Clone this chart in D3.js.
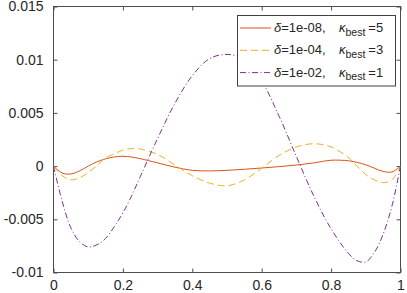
<!DOCTYPE html>
<html>
<head>
<meta charset="utf-8">
<script src="https://cdn.jsdelivr.net/npm/d3@7"></script>
<style>
  body { margin: 0; background: #fff; }
  svg { display: block; font-family: 'Liberation Sans', Arial, Helvetica, sans-serif; }
</style>
</head>
<body>
<div id="chart"></div>
<script>
// sample positions along x (shared by all three curves)
const xs = [0, 0.025, 0.05, 0.075, 0.1, 0.125, 0.15, 0.175, 0.2, 0.225, 0.25, 0.3, 0.35, 0.4, 0.45,
  0.5, 0.55, 0.6, 0.65, 0.7, 0.75, 0.8, 0.85, 0.875, 0.9, 0.925, 0.95, 0.975, 1];

// delta = 1e-08, kappa_best = 5
const seriesDelta8 = [0, -0.00065, -0.00074, -0.00045, 0.0, 0.0004, 0.00068, 0.00086, 0.00092, 0.00085, 0.0007,
  0.0003, -0.0001, -0.0004, -0.00045, -0.0004, -0.0003, -0.00018, -0.00005, 0.0001, 0.0003, 0.00055, 0.0005,
  0.00035, 0.00012, -0.0002, -0.0005, -0.00055, 0];

// delta = 1e-04, kappa_best = 3
const seriesDelta4 = [0, -0.0009, -0.00128, -0.0011, -0.0006, 0.00004, 0.00077, 0.00115, 0.0015, 0.00165, 0.0016,
  0.0011, 0.0001, -0.0009, -0.0016, -0.00185, -0.0013, -0.0002, 0.001, 0.0018, 0.0021, 0.0018, 0.0008,
  0.0, -0.0008, -0.0013, -0.00155, -0.0013, 0];

// delta = 1e-02, kappa_best = 1
const seriesDelta2 = [0, -0.0033, -0.0058, -0.0071, -0.0076, -0.0074, -0.0068, -0.0057, -0.0044, -0.0028, -0.001,
  0.0026, 0.0059, 0.0085, 0.0101, 0.0105, 0.01, 0.008, 0.0047, 0.0009, -0.0028, -0.0059, -0.0082,
  -0.0089, -0.009, -0.0081, -0.0064, -0.0038, 0];

const xTicks = [0, 0.2, 0.4, 0.6, 0.8, 1];
const xTickLabels = ['0', '0.2', '0.4', '0.6', '0.8', '1'];
const yTicks = [-0.01, -0.005, 0, 0.005, 0.01, 0.015];
const yTickLabels = ['-0.01', '-0.005', '0', '0.005', '0.01', '0.015'];

const legendDeltas = ['1e-08', '1e-04', '1e-02'];
const legendKappas = ['5', '3', '1'];

const width = 407;
const height = 293;
const plot = { left: 53.5, right: 400.5, top: 6.5, bottom: 272.5 };

const svg = d3.select('#chart')
  .append('svg')
  .attr('width', width)
  .attr('height', height);

const x = d3.scaleLinear()
  .domain([0, 1])
  .range([plot.left, plot.right]);

const y = d3.scaleLinear()
  .domain([-0.01, 0.015])
  .range([plot.bottom, plot.top]);

const axisColor = '#4d4d4d';
const textColor = '#262626';

function styleAxis(g) {
  g.select('.domain').remove();
  g.selectAll('.tick line').attr('stroke', axisColor);
  g.selectAll('.tick text')
    .attr('fill', textColor)
    .style('font-size', '14px');
}

// ticks point inwards on all four sides
svg.append('g')
  .attr('transform', `translate(0,${plot.bottom})`)
  .call(d3.axisBottom(x).tickValues(xTicks).tickSize(-4).tickPadding(8)
    .tickFormat((d, i) => xTickLabels[i]))
  .call(styleAxis)
  .call(g => g.selectAll('.tick text').attr('dy', '0.68em'));

svg.append('g')
  .attr('transform', `translate(0,${plot.top})`)
  .call(d3.axisTop(x).tickValues(xTicks).tickSize(-4).tickFormat(''))
  .call(styleAxis);

svg.append('g')
  .attr('transform', `translate(${plot.left},0)`)
  .call(d3.axisLeft(y).tickValues(yTicks).tickSize(-4).tickPadding(10)
    .tickFormat((d, i) => yTickLabels[i]))
  .call(styleAxis);

svg.append('g')
  .attr('transform', `translate(${plot.right},0)`)
  .call(d3.axisRight(y).tickValues(yTicks).tickSize(-4).tickFormat(''))
  .call(styleAxis);

// frame
svg.append('rect')
  .attr('x', plot.left)
  .attr('y', plot.top)
  .attr('width', plot.right - plot.left)
  .attr('height', plot.bottom - plot.top)
  .attr('fill', 'none')
  .attr('stroke', axisColor)
  .attr('stroke-width', 1);

const series = [
  { values: seriesDelta8, color: '#D95319', dash: null },
  { values: seriesDelta4, color: '#EDB120', dash: '7,4' },
  { values: seriesDelta2, color: '#7E2F8E', dash: '6,2.5,1,2.5' }
];

const line = d3.line()
  .x(d => x(d[0]))
  .y(d => y(d[1]))
  .curve(d3.curveCatmullRom.alpha(0.5));

svg.selectAll('path.curve')
  .data(series)
  .join('path')
  .attr('class', 'curve')
  .attr('d', s => line(xs.map((v, i) => [v, s.values[i]])))
  .attr('fill', 'none')
  .attr('stroke', s => s.color)
  .attr('stroke-width', 1)
  .attr('stroke-dasharray', s => s.dash);

// legend
const legend = svg.append('g');

legend.append('rect')
  .attr('x', 237.5)
  .attr('y', 15.5)
  .attr('width', 158)
  .attr('height', 70.5)
  .attr('fill', '#fff')
  .attr('stroke', '#404040')
  .attr('stroke-width', 1);

series.forEach((s, i) => {
  const rowY = 28 + i * 22.3;

  legend.append('line')
    .attr('x1', 240)
    .attr('x2', 271)
    .attr('y1', rowY)
    .attr('y2', rowY)
    .attr('stroke', s.color)
    .attr('stroke-width', 1)
    .attr('stroke-dasharray', s.dash);

  const label = legend.append('text')
    .attr('x', 274)
    .attr('y', rowY + 4)
    .attr('fill', textColor)
    .style('font-size', '13px');
  label.append('tspan').style('font-style', 'italic').text('δ');
  label.append('tspan').text(`=${legendDeltas[i]},`);

  const kappa = legend.append('text')
    .attr('x', 339)
    .attr('y', rowY + 4)
    .attr('fill', textColor)
    .style('font-size', '13px');
  kappa.append('tspan').style('font-style', 'italic').text('κ');
  kappa.append('tspan').attr('dy', 3.5).style('font-size', '10.5px').text('best');
  kappa.append('tspan').attr('dy', -3.5).attr('dx', 3).text(`=${legendKappas[i]}`);
});
</script>
</body>
</html>
